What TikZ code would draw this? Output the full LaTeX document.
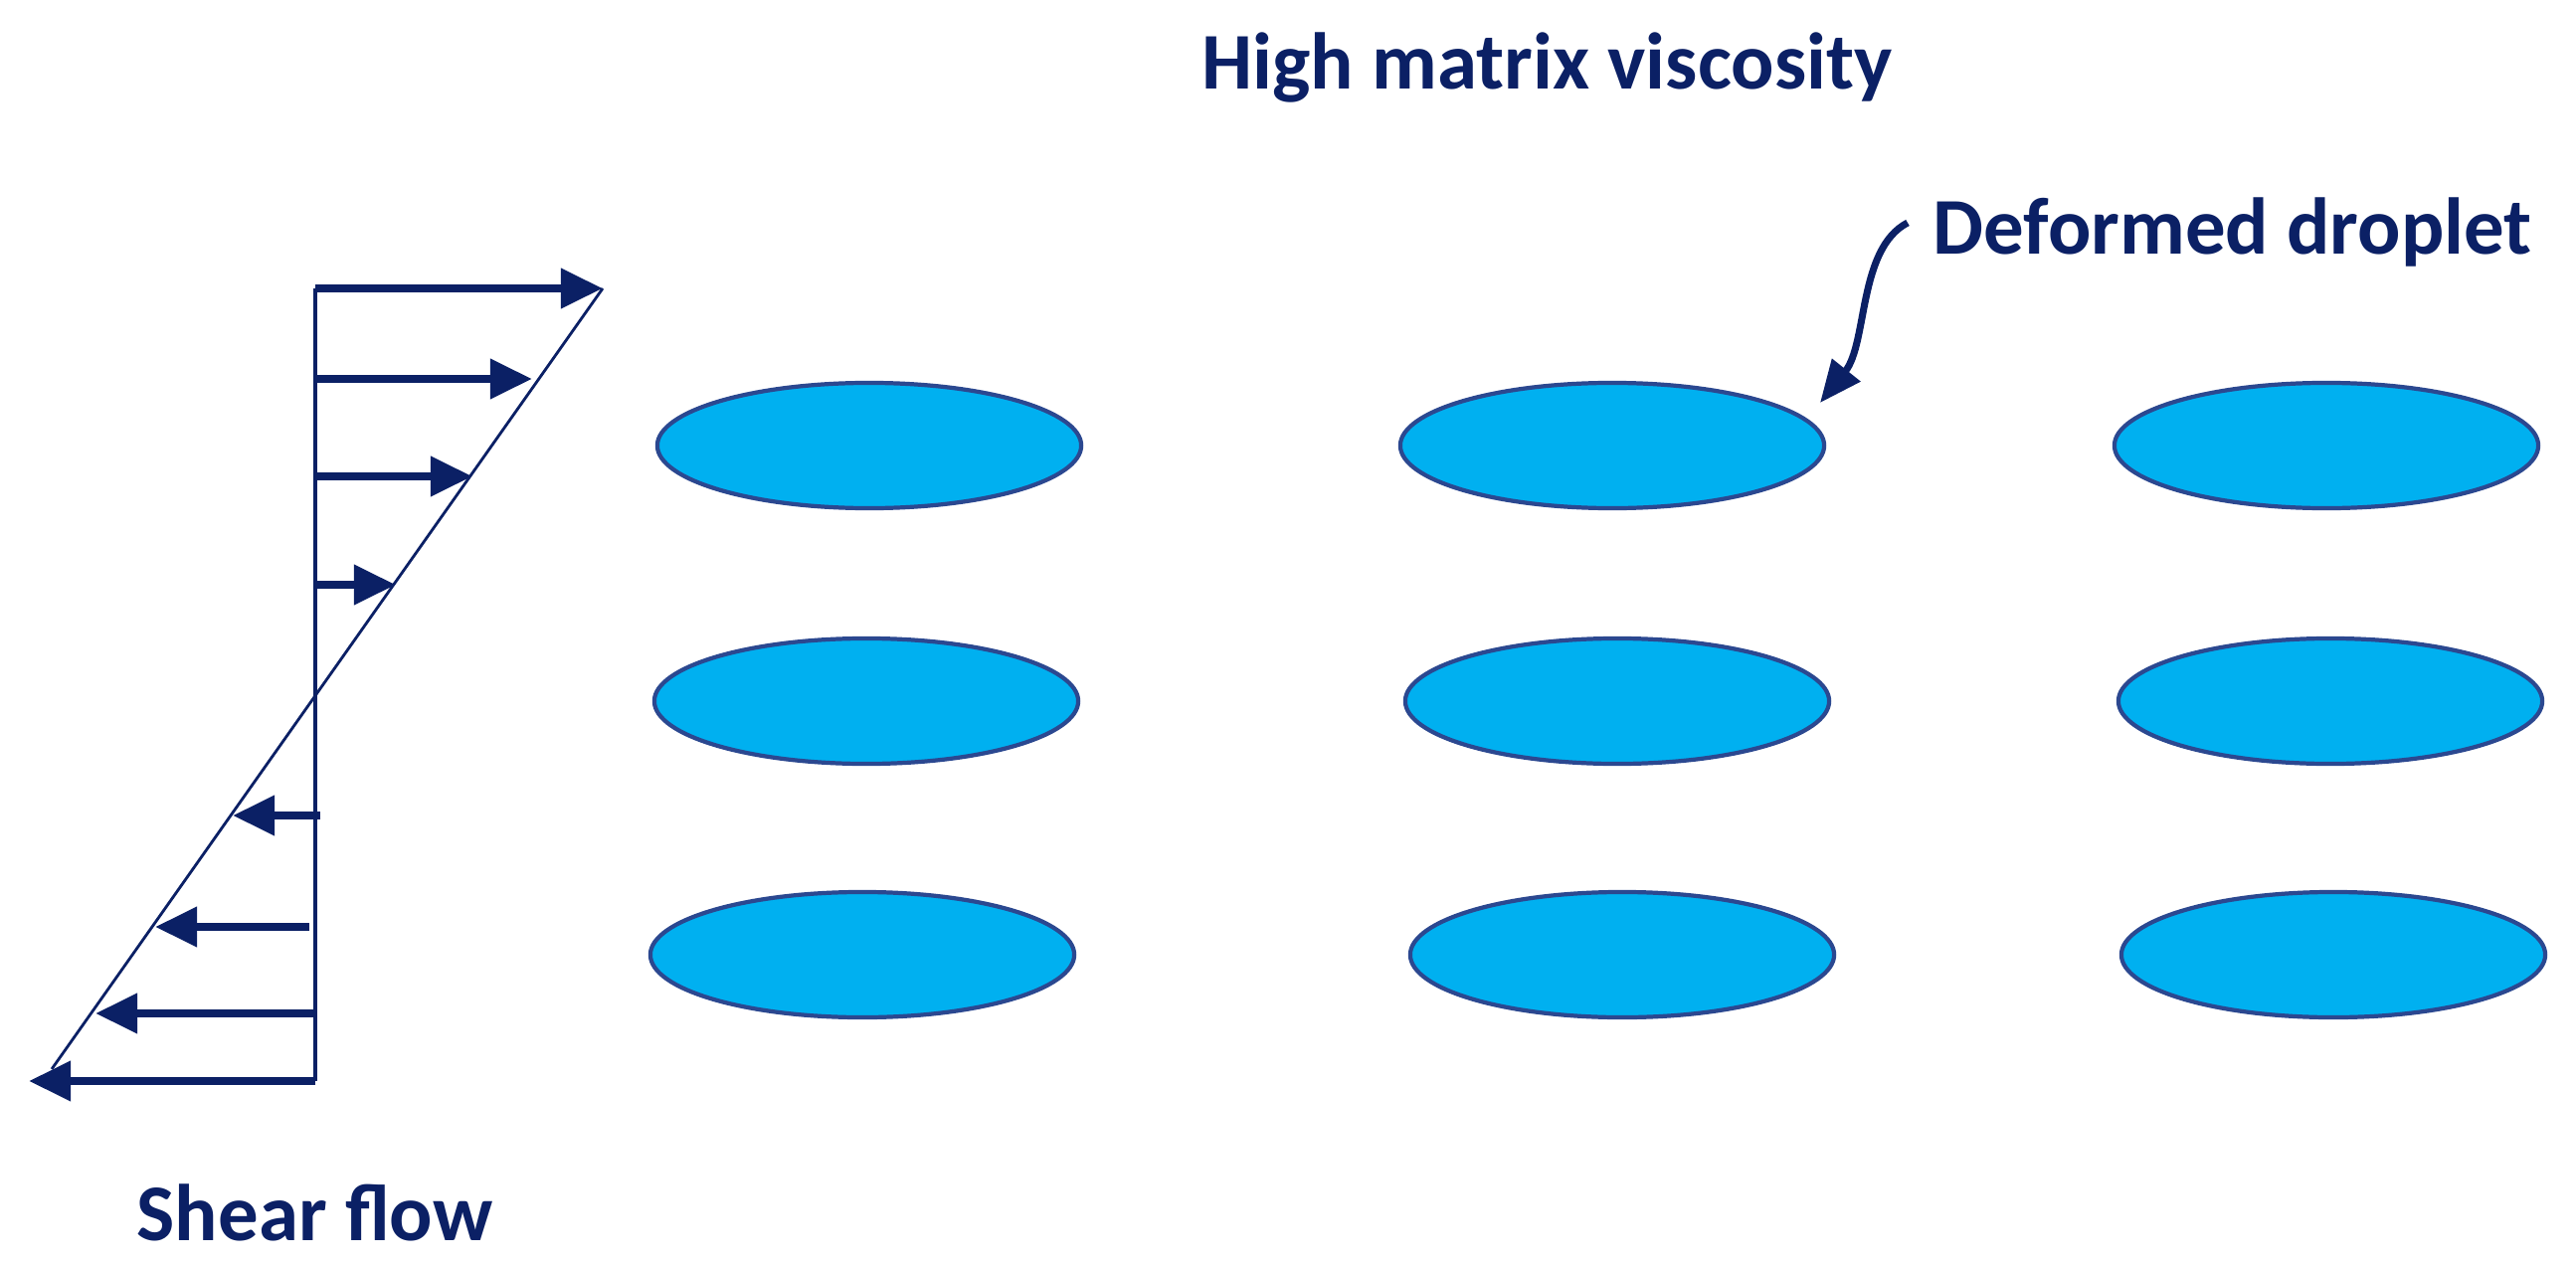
\documentclass[tikz,border=0pt]{standalone}
\usepackage{fontspec}
\setmainfont{Carlito}
\usetikzlibrary{shapes.geometric,arrows.meta}
\definecolor{navy}{HTML}{0B2065}
\definecolor{dropfill}{HTML}{00B0F0}
\definecolor{dropline}{HTML}{2B4890}

\begin{document}
\begin{tikzpicture}[x=0.01cm,y=-0.01cm,
  drop/.style={ellipse,draw=dropline,line width=1.2pt,fill=dropfill,
    minimum width=4.26cm,minimum height=1.26cm,inner sep=0pt},
  txt/.style={text=navy,font=\fontsize{23}{28}\selectfont\bfseries,inner sep=0pt,anchor=base west},
  vel/.style={draw=navy,line width=2.4pt,-{Triangle[length=12pt,width=11pt]}}]
\useasboundingbox (0,0) rectangle (2590,1273);

% shear profile
\coordinate (wtop) at (317,290);
\coordinate (wbot) at (317,1087);
\coordinate (ltop) at (606,290);
\coordinate (lbot) at (52,1075);
\draw[navy,line width=1.3pt] (wtop) -- (wbot);
\draw[navy,line width=0.8pt] (ltop) -- (lbot);
\foreach \y/\x in {290/606,381/535,479/475,588/398}
  \draw[vel] (317,\y) -- (\x,\y);
\foreach \y/\s/\x in {820/322/234,932/311/156,1019/317/96,1087/317/29}
  \draw[vel] (\s,\y) -- (\x,\y);

% droplets
\node[drop] (d11) at (874,448) {};
\node[drop] (d12) at (1621,448) {};
\node[drop] (d13) at (2339,448) {};
\node[drop] (d21) at (871,705) {};
\node[drop] (d22) at (1626,705) {};
\node[drop] (d23) at (2343,705) {};
\node[drop] (d31) at (867,960) {};
\node[drop] (d32) at (1631,960) {};
\node[drop] (d33) at (2346,960) {};

% labels
\node[txt] (title) at (1208,90) {High matrix viscosity};
\node[txt] (deform) at (1943,256) {Deformed droplet};
\node[txt] (shear) at (137,1247) {Shear flow};

\coordinate (tip) at (1830,405);
\draw[navy,line width=2pt,-{Triangle[length=12pt,width=10pt]}]
  ([xshift=-0.25cm,yshift=0.1cm]deform.west) .. controls (1868,250) and (1878,345) .. (tip);
\end{tikzpicture}
\end{document}
